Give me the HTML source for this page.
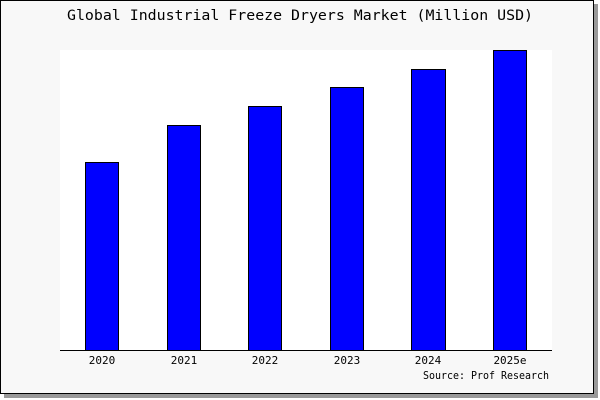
<!DOCTYPE html>
<html><head><style>
body{margin:0;background:#fff;}
svg{display:block;}
text{font-family:"DejaVu Sans Mono","Liberation Mono",monospace;fill:#000;}
</style></head><body>
<svg width="600" height="400" xmlns="http://www.w3.org/2000/svg">
<rect x="4" y="4" width="594" height="394" fill="#999"/>
<rect x="0.5" y="0.5" width="593" height="393" fill="#f8f8f8" stroke="#000" stroke-width="1"/>
<text x="67" y="20" font-size="14" textLength="466" lengthAdjust="spacingAndGlyphs">Global Industrial Freeze Dryers Market (Million USD)</text>
<rect x="60" y="50" width="492" height="300" fill="#fff"/>
<g fill="#0000ff" stroke="#000" stroke-width="1">
<rect x="85.5" y="162.5" width="33" height="188"/>
<rect x="167.5" y="125.5" width="33" height="225"/>
<rect x="248.5" y="106.5" width="33" height="244"/>
<rect x="330.5" y="87.5" width="33" height="263"/>
<rect x="411.5" y="69.5" width="34" height="281"/>
<rect x="493.5" y="50.5" width="33" height="300"/>
</g>
<line x1="60" y1="350.5" x2="552" y2="350.5" stroke="#000"/>
<g font-size="11" text-anchor="middle">
<text x="102" y="364">2020</text>
<text x="184" y="364">2021</text>
<text x="265" y="364">2022</text>
<text x="347" y="364">2023</text>
<text x="428" y="364">2024</text>
<text x="510" y="364">2025e</text>
</g>
<text x="423" y="379" font-size="11" textLength="126" lengthAdjust="spacingAndGlyphs">Source: Prof Research</text>
</svg>
</body></html>
